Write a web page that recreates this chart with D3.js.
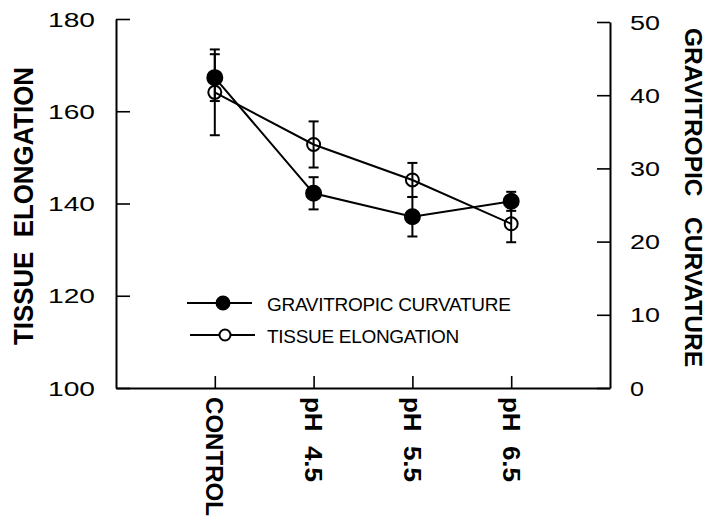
<!DOCTYPE html>
<html>
<head>
<meta charset="utf-8">
<script src="https://cdn.jsdelivr.net/npm/d3@7"></script>
<style>
  body { margin: 0; background: #fff; }
  text { font-family: 'Liberation Sans', Arial, sans-serif; fill: #000; white-space: pre; }
</style>
</head>
<body>
<div id="chart"></div>
<script>
const categories = ['CONTROL', 'pH  4.5', 'pH  5.5', 'pH  6.5']
// gravitropic curvature (right axis)
const curvature = [42.4, 26.6, 23.4, 25.5]
const curvatureErr = [3.2, 2.2, 2.7, 1.3]
// tissue elongation (left axis)
const elongation = [164.1, 152.8, 145.1, 135.6]
const elongationErr = [9.3, 5.0, 3.7, 4.0]

const leftTicks = [100, 120, 140, 160, 180]
const rightTicks = [0, 10, 20, 30, 40, 50]

const width = 711
const height = 519

const svg = d3.select('#chart')
  .append('svg')
  .attr('width', width)
  .attr('height', height)

const x = d3.scalePoint()
  .domain(categories)
  .range([116, 610])
  .padding(1)

const yLeft = d3.scaleLinear().domain([100, 180]).range([388, 19])
const yRight = d3.scaleLinear().domain([0, 50]).range([388, 22])

// axes
const leftAxis = svg.append('g')
  .attr('transform', 'translate(116,0)')
  .call(d3.axisLeft(yLeft).tickValues(leftTicks).tickSize(-14).tickSizeOuter(0).tickFormat(''))

leftAxis.selectAll('.tick').append('text')
  .attr('x', -68)
  .attr('y', 7)
  .attr('text-anchor', 'start')
  .attr('font-size', 19.5)
  .attr('textLength', d => String(d).length * 16 - 1)
  .attr('lengthAdjust', 'spacingAndGlyphs')
  .text(d => d)

const rightAxis = svg.append('g')
  .attr('transform', 'translate(610,0)')
  .call(d3.axisRight(yRight).tickValues(rightTicks).tickSize(-13).tickSizeOuter(0).tickFormat(''))

rightAxis.selectAll('.tick').append('text')
  .attr('x', 20)
  .attr('y', 7)
  .attr('text-anchor', 'start')
  .attr('font-size', 19.5)
  .attr('textLength', d => String(d).length * 16 - 2)
  .attr('lengthAdjust', 'spacingAndGlyphs')
  .text(d => d)

const bottomAxis = svg.append('g')
  .attr('transform', 'translate(0,388)')
  .call(d3.axisBottom(x).tickSize(-12).tickSizeOuter(0).tickFormat(''))

bottomAxis.selectAll('.tick').append('text')
  .attr('transform', 'translate(-9,9) rotate(90)')
  .attr('text-anchor', 'start')
  .attr('font-size', 24)
  .attr('font-weight', 'bold')
  .attr('textLength', d => d.startsWith('pH') ? 85 : 119)
  .attr('lengthAdjust', 'spacingAndGlyphs')
  .text(d => d)

svg.selectAll('.domain').attr('stroke', '#000').attr('stroke-width', 2)
svg.selectAll('.tick line').attr('stroke', '#000').attr('stroke-width', 1.6)

// axis titles
svg.append('text')
  .attr('transform', 'translate(33,345) rotate(-90)')
  .attr('font-size', 27)
  .attr('font-weight', 'bold')
  .attr('textLength', 278)
  .attr('lengthAdjust', 'spacingAndGlyphs')
  .text('TISSUE  ELONGATION')

svg.append('text')
  .attr('transform', 'translate(685,28) rotate(90)')
  .attr('font-size', 24)
  .attr('font-weight', 'bold')
  .attr('textLength', 339)
  .attr('lengthAdjust', 'spacingAndGlyphs')
  .text('GRAVITROPIC   CURVATURE')

// data
const rows = categories.map((c, i) => ({
  cat: c,
  curv: curvature[i], curvErr: curvatureErr[i],
  elong: elongation[i], elongErr: elongationErr[i]
}))

const series = [
  { key: 'curv', err: 'curvErr', y: yRight, filled: true, r: 7.5 },
  { key: 'elong', err: 'elongErr', y: yLeft, filled: false, r: 6.5 }
]

const line = (s) => d3.line()
  .x(d => x(d.cat))
  .y(d => s.y(d[s.key]))

series.forEach(s => {
  const g = svg.append('g')

  g.append('path')
    .datum(rows)
    .attr('d', line(s))
    .attr('fill', 'none')
    .attr('stroke', '#000')
    .attr('stroke-width', 2)

  const bars = g.selectAll('.err')
    .data(rows)
    .enter()
    .append('g')
    .attr('stroke', '#000')
    .attr('stroke-width', 2)

  bars.append('line')
    .attr('x1', d => x(d.cat))
    .attr('x2', d => x(d.cat))
    .attr('y1', d => s.y(d[s.key] - d[s.err]))
    .attr('y2', d => s.y(d[s.key] + d[s.err]))

  bars.selectAll('.cap')
    .data(d => [d[s.key] - d[s.err], d[s.key] + d[s.err]].map(v => ({ cat: d.cat, v: v })))
    .enter()
    .append('line')
    .attr('x1', d => x(d.cat) - 5)
    .attr('x2', d => x(d.cat) + 5)
    .attr('y1', d => s.y(d.v))
    .attr('y2', d => s.y(d.v))

  g.selectAll('circle')
    .data(rows)
    .enter()
    .append('circle')
    .attr('cx', d => x(d.cat))
    .attr('cy', d => s.y(d[s.key]))
    .attr('r', s.r)
    .attr('fill', s.filled ? '#000' : 'none')
    .attr('stroke', '#000')
    .attr('stroke-width', 2)
})

// legend
const legendItems = [
  { label: 'GRAVITROPIC CURVATURE', filled: true, r: 6.5, y: 303, x1: 187, x2: 252, cx: 223 },
  { label: 'TISSUE ELONGATION', filled: false, r: 5.5, y: 335, x1: 190, x2: 255, cx: 225 }
]

const legend = svg.selectAll('.legend')
  .data(legendItems)
  .enter()
  .append('g')

legend.append('line')
  .attr('x1', d => d.x1)
  .attr('x2', d => d.x2)
  .attr('y1', d => d.y)
  .attr('y2', d => d.y)
  .attr('stroke', '#000')
  .attr('stroke-width', 2)

legend.append('circle')
  .attr('cx', d => d.cx)
  .attr('cy', d => d.y)
  .attr('r', d => d.r)
  .attr('fill', d => d.filled ? '#000' : '#fff')
  .attr('stroke', '#000')
  .attr('stroke-width', 2)

legend.append('text')
  .attr('x', 267)
  .attr('y', d => d.y + 8)
  .attr('font-size', 19)
  .attr('letter-spacing', -0.3)
  .text(d => d.label)
</script>
</body>
</html>
